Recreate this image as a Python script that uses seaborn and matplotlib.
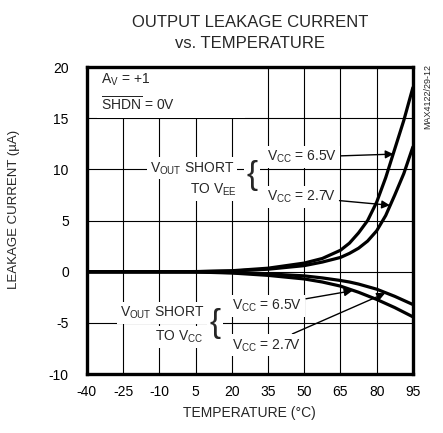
import matplotlib
matplotlib.use("Agg")
from matplotlib import pyplot as plt
import seaborn as sns
import pandas as pd

# values (uA vs degC)
temp = [-40, -25, -10, 5, 20, 35, 50, 57.5, 65, 68.75, 72.5, 76.25, 80, 83.75, 87.5, 91.25, 95]
vee_65 = [0, 0, 0, 0.02, 0.1, 0.35, 0.85, 1.3, 2.1, 2.8, 3.8, 5.0, 6.8, 9.2, 12.0, 14.8, 18.0]
vee_27 = [0, 0, 0, 0.01, 0.07, 0.25, 0.6, 0.95, 1.4, 1.8, 2.3, 3.0, 4.0, 5.5, 7.5, 9.6, 12.2]
vcc_65 = [0, 0, 0, -0.02, -0.12, -0.35, -0.7, -1.0, -1.4, -1.7, -2.0, -2.35, -2.7, -3.1, -3.5, -3.95, -4.4]
vcc_27 = [0, 0, 0, -0.01, -0.08, -0.2, -0.4, -0.6, -0.85, -1.0, -1.2, -1.45, -1.7, -2.05, -2.4, -2.8, -3.2]

xticks = [-40, -25, -10, 5, 20, 35, 50, 65, 80, 95]
yticks = [-10, -5, 0, 5, 10, 15, 20]

sns.set_style("white")
plt.rcParams["font.family"] = ["Liberation Sans", "DejaVu Sans"]
plt.rcParams["axes.unicode_minus"] = False
plt.rcParams["mathtext.fontset"] = "custom"
plt.rcParams["mathtext.rm"] = "Liberation Sans"
plt.rcParams["mathtext.it"] = "Liberation Sans:italic"
plt.rcParams["mathtext.bf"] = "Liberation Sans:bold"

frames = []
for name, vals in [("vee65", vee_65), ("vee27", vee_27),
                   ("vcc65", vcc_65), ("vcc27", vcc_27)]:
    frames.append(pd.DataFrame({"temp": temp, "current": vals, "series": name}))
df = pd.concat(frames, ignore_index=True)

fig = plt.figure(figsize=(4.43, 4.33), dpi=100)
ax = fig.add_axes([0.196, 0.136, 0.736, 0.709])

sns.lineplot(data=df, x="temp", y="current", hue="series",
             palette=["black"] * 4, linewidth=2.3, legend=False,
             errorbar=None, ax=ax)

ax.set_xlim(-40, 95)
ax.set_ylim(-10, 20)
ax.set_xticks(xticks)
ax.set_yticks(yticks)
ax.grid(True, color="black", linewidth=0.8)
ax.set_axisbelow(True)
ax.tick_params(axis="both", length=0, labelsize=10, colors="black")
ax.tick_params(axis="x", pad=8)
ax.tick_params(axis="y", pad=13)
for s in ax.spines.values():
    s.set_linewidth(2.4)
    s.set_color("black")

ax.set_xlabel("TEMPERATURE (°C)", fontsize=10, labelpad=5)
ax.set_ylabel("LEAKAGE CURRENT (µA)", fontsize=9.5)
ax.yaxis.set_label_coords(-0.205, 0.535)
ax.set_title("OUTPUT LEAKAGE CURRENT\nvs. TEMPERATURE", fontsize=12,
             linespacing=1.45, pad=14)

white = dict(facecolor="white", edgecolor="none", pad=2)
fs = 10

ax.text(-34, 17.5, "A$_\\mathrm{V}$ = +1\n$\\overline{\\mathrm{SHDN}}$ = 0V                  ",
        fontsize=fs, ha="left", va="center", linespacing=1.5, zorder=2.1,
        bbox=dict(facecolor="white", edgecolor="none", pad=3))

arrow = dict(arrowstyle="-|>", color="black", lw=1.0, mutation_scale=12,
             shrinkA=1, shrinkB=0)

# short to VEE
ax.text(-14, 10.1, "V$_\\mathrm{OUT}$ SHORT", fontsize=fs, ha="left", va="center", bbox=white)
ax.text(22, 8.0, "TO V$_\\mathrm{EE}$", fontsize=fs, ha="right", va="center", bbox=white)
ax.text(28.3, 9.4, "{", fontsize=24, ha="center", va="center", bbox=white)
ax.annotate("V$_\\mathrm{CC}$ = 6.5V", xy=(87, 11.5), xytext=(34.5, 11.2),
            fontsize=fs, ha="left", va="center", bbox=white, arrowprops=arrow)
ax.annotate("V$_\\mathrm{CC}$ = 2.7V", xy=(85.5, 6.5), xytext=(34.5, 7.3),
            fontsize=fs, ha="left", va="center", bbox=white, arrowprops=arrow)

# short to VCC
ax.text(-26.3, -4.0, "V$_\\mathrm{OUT}$ SHORT", fontsize=fs, ha="left", va="center", bbox=white)
ax.text(8, -6.4, "TO V$_\\mathrm{CC}$", fontsize=fs, ha="right", va="center", bbox=white)
ax.text(13, -5.1, "{", fontsize=24, ha="center", va="center", bbox=white)
ax.annotate("V$_\\mathrm{CC}$ = 6.5V", xy=(70, -1.85), xytext=(20, -3.3),
            fontsize=fs, ha="left", va="center", bbox=white, arrowprops=arrow)
ax.annotate("V$_\\mathrm{CC}$ = 2.7V", xy=(83.5, -2.1), xytext=(20, -7.2),
            fontsize=fs, ha="left", va="center", bbox=white, arrowprops=arrow)

fig.text(0.966, 0.778, "MAX4122/29-12", fontsize=6.5, rotation=90,
         ha="center", va="center")

plt.savefig("out.png", dpi=100)
